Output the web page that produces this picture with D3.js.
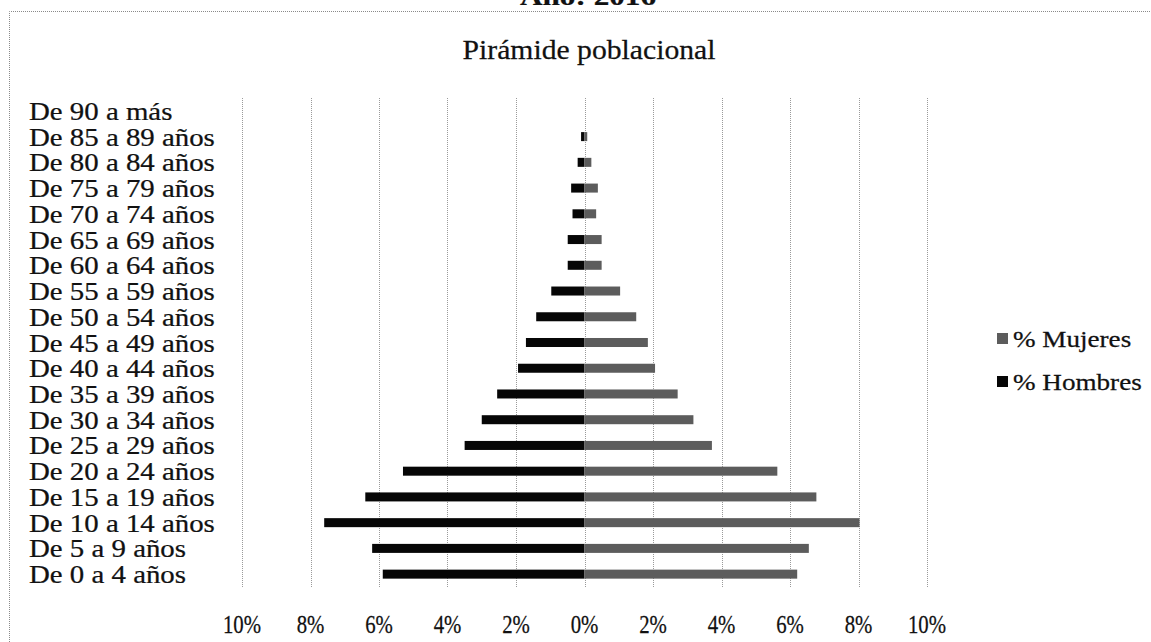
<!doctype html>
<html>
<head>
<meta charset="utf-8">
<script src="https://cdn.jsdelivr.net/npm/d3@7/dist/d3.min.js"></script>
<style>
html,body{
    margin: 0;
    background: #ffffff;
    overflow: hidden;
}
text {
    font-family: "Liberation Serif", "Times New Roman", serif;
    fill: #111111;
    stroke: #111111;
    stroke-width: 0.25px;
}
</style>
</head>
<body>
<script>
// grupos de edad, de abajo hacia arriba
var categorias = ["De 0 a 4 años","De 5 a 9 años","De 10 a 14 años","De 15 a 19 años",
    "De 20 a 24 años","De 25 a 29 años","De 30 a 34 años","De 35 a 39 años",
    "De 40 a 44 años","De 45 a 49 años","De 50 a 54 años","De 55 a 59 años",
    "De 60 a 64 años","De 65 a 69 años","De 70 a 74 años","De 75 a 79 años",
    "De 80 a 84 años","De 85 a 89 años","De 90 a más"];
var hombres = [5.89, 6.2, 7.6, 6.4, 5.3, 3.5, 3.0, 2.55, 1.94, 1.71, 1.41, 0.97, 0.49, 0.49, 0.35, 0.39, 0.2, 0.1, 0];
var mujeres = [6.21, 6.55, 8.03, 6.77, 5.63, 3.72, 3.18, 2.72, 2.06, 1.85, 1.51, 1.04, 0.5, 0.5, 0.34, 0.39, 0.2, 0.08, 0];
var ticks = [-10, -8, -6, -4, -2, 0, 2, 4, 6, 8, 10];
var series = ["% Mujeres", "% Hombres"];

(function(){
    var w = 1151, h = 642,
        top = 98, bottom = 587,
        left = 242, right = 927,
        colorH = "#060606",
        colorM = "#5c5c5c";

    var svg = d3.select("body").append("svg")
        .attr("width", w)
        .attr("height", h);

    var x = d3.scaleLinear().domain([-10, 10]).range([left, right]);
    var y = d3.scaleBand().domain(categorias).range([bottom, top])
        .paddingInner(0.65).paddingOuter(0.325);

    // marco punteado
    svg.append("path")
        .attr("d", "M9.5," + h + "V11.5H" + w)
        .attr("fill", "none")
        .attr("stroke", "#8a8a8a")
        .attr("stroke-dasharray", "1,1");

    // titulo de arriba, cortado
    svg.append("text")
        .attr("transform", "translate(588,5) scale(1.2,1)")
        .attr("text-anchor", "middle")
        .style("font-size", "26px")
        .style("font-weight", "bold")
        .text("Año: 2016");

    svg.append("text")
        .attr("transform", "translate(589,59) scale(1.06,1)")
        .attr("text-anchor", "middle")
        .style("font-size", "28px")
        .text("Pirámide poblacional");

    // lineas de division
    svg.append("g").selectAll("line")
        .data(ticks).enter().append("line")
        .attr("x1", function(d){return Math.round(x(d)) + 0.5})
        .attr("x2", function(d){return Math.round(x(d)) + 0.5})
        .attr("y1", top)
        .attr("y2", bottom)
        .attr("stroke", "#9a9a9a")
        .attr("stroke-dasharray", "1,1");

    var datos = categorias.map(function(c, i){
        return {cat: c, h: hombres[i], m: mujeres[i]};
    });

    var barras = svg.append("g");
    barras.selectAll("rect.h")
        .data(datos).enter().append("rect")
        .attr("class", "h")
        .attr("x", function(d){return x(-d.h)})
        .attr("width", function(d){return x(0) - x(-d.h)})
        .attr("y", function(d){return y(d.cat)})
        .attr("height", y.bandwidth())
        .attr("fill", colorH);
    barras.selectAll("rect.m")
        .data(datos).enter().append("rect")
        .attr("class", "m")
        .attr("x", x(0))
        .attr("width", function(d){return x(d.m) - x(0)})
        .attr("y", function(d){return y(d.cat)})
        .attr("height", y.bandwidth())
        .attr("fill", colorM);

    // etiquetas de categoria
    svg.append("g").selectAll("text")
        .data(categorias).enter().append("text")
        .attr("transform", function(d){
            return "translate(29," + (y(d) + y.bandwidth()/2 + 9) + ") scale(1.11,1)";
        })
        .style("font-size", "26px")
        .text(function(d){return d});

    // eje x
    svg.append("g").selectAll("text")
        .data(ticks).enter().append("text")
        .attr("transform", function(d){
            return "translate(" + x(d) + ",633) scale(0.8,1)";
        })
        .attr("text-anchor", "middle")
        .style("font-size", "26px")
        .text(function(d){return Math.abs(d) + "%"});

    // leyenda
    var leyenda = svg.append("g").selectAll("g")
        .data(series).enter().append("g")
        .attr("transform", function(d, i){return "translate(997," + (333 + i*43) + ")"});
    leyenda.append("rect")
        .attr("width", 11)
        .attr("height", 11)
        .attr("fill", function(d, i){return i == 0 ? colorM : colorH});
    leyenda.append("text")
        .attr("transform", "translate(16,14) scale(1.13,1)")
        .style("font-size", "24px")
        .text(function(d){return d});
})();
</script>
</body>
</html>
